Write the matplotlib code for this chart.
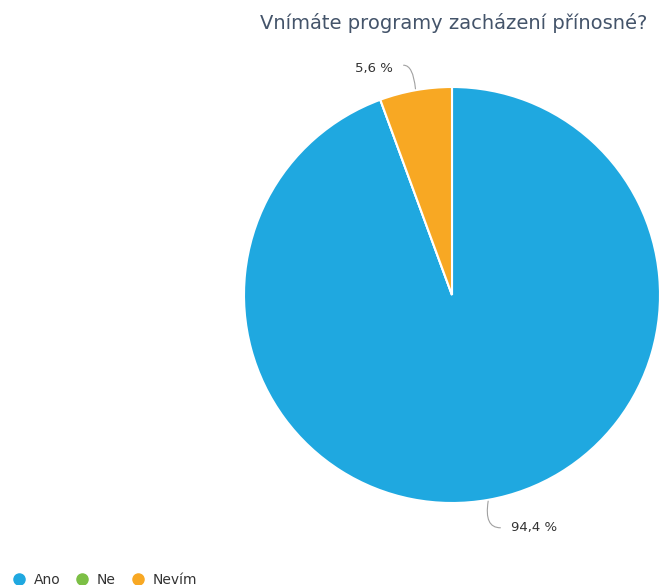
import numpy as np
import matplotlib.pyplot as plt
from matplotlib.lines import Line2D

labels = ['Ano', 'Ne', 'Nevím']
values = [94.4, 0.0, 5.6]
colors = ['#1fa8e0', '#7cbf45', '#f8a823']
title = 'Vnímáte programy zacházení přínosné?'

plt.rcParams['font.family'] = ['DejaVu Sans']

fig = plt.figure(figsize=(6.61, 5.85), dpi=100)
ax = fig.add_axes([0, 0, 1, 1])

cx, cy, r = 452, 585 - 295, 208
wedges, _ = ax.pie(values, colors=colors, startangle=90, counterclock=False,
                   center=(cx, cy), radius=r, frame=True,
                   wedgeprops=dict(edgecolor='white', linewidth=1.5))
ax.set_xlim(0, 661)
ax.set_ylim(0, 585)
ax.set_aspect('equal')
ax.axis('off')

# percentage labels with curved leader lines
for w, v in zip(wedges, values):
    if v <= 0:
        continue
    ang = np.deg2rad((w.theta1 + w.theta2) / 2)
    px, py = cx + r * np.cos(ang), cy + r * np.sin(ang)
    txt = ('%.1f' % v).replace('.', ',') + ' %'
    if py > cy:
        sx, sy = px - 12, py + 25
        ax.text(px - 23, py + 22, txt, ha='right', va='center',
                fontsize=9.5, color='#333333')
        cs = 'angle3,angleA=0,angleB=95'
    else:
        sx, sy = px + 12, py - 28
        ax.text(px + 23, py - 28, txt, ha='left', va='center',
                fontsize=9.5, color='#333333')
        cs = 'angle3,angleA=0,angleB=80'
    ax.annotate('', xy=(px, py), xytext=(sx, sy),
                arrowprops=dict(arrowstyle='-', color='#a0a0a0', lw=0.8,
                                shrinkA=0, shrinkB=1, connectionstyle=cs))

ax.text(454, 585 - 23, title, ha='center', va='center', fontsize=14,
        color='#44546a')

handles = [Line2D([], [], marker='o', linestyle='none', markersize=8,
                  markerfacecolor=c, markeredgecolor=c) for c in colors]
fig.legend(handles, labels, loc='lower left', bbox_to_anchor=(-0.003, -0.024),
           ncol=3, frameon=False, fontsize=10, handletextpad=0.45,
           columnspacing=1.0, handlelength=1.2, labelcolor='#333333')

fig.savefig('out.png', dpi=100)
